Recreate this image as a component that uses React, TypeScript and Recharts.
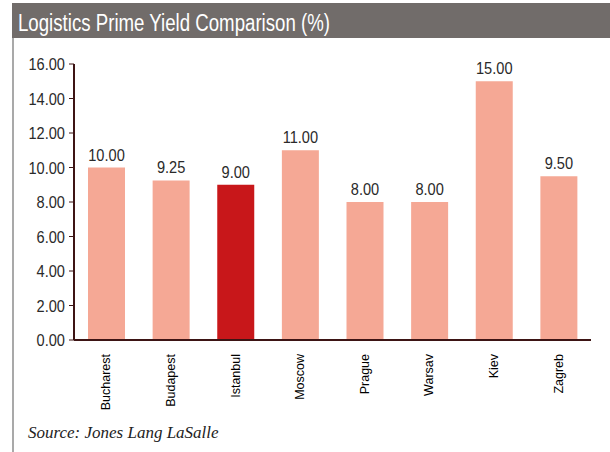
import React from 'react';
import { BarChart, Bar, XAxis, YAxis, Cell, LabelList } from 'recharts';

const cities = ['Bucharest', 'Budapest', 'Istanbul', 'Moscow', 'Prague', 'Warsav', 'Kiev', 'Zagreb'];
const yields = [10.0, 9.25, 9.0, 11.0, 8.0, 8.0, 15.0, 9.5];
const yTicks = [0, 2, 4, 6, 8, 10, 12, 14, 16];
const highlight = 'Istanbul';

const SANS = "'Liberation Sans', Arial, sans-serif";
const SQUEEZE = 0.86;

const data = cities.map((c, i) => ({ name: c, value: yields[i] }));

// condensed-looking text: regular sans squeezed horizontally
const Narrow = ({ x, y, anchor, children }: any) => (
  <text
    transform={`translate(${x}, ${y}) scale(${SQUEEZE}, 1)`}
    textAnchor={anchor}
    fontFamily={SANS}
    fontSize={17}
    fill="#2a2a2a"
  >
    {children}
  </text>
);

const ValueTick = (props: any) => {
  const { x, y, payload } = props;
  return (
    <Narrow x={x - 2} y={y + 6} anchor="end">
      {Number(payload.value).toFixed(2)}
    </Narrow>
  );
};

const CityTick = (props: any) => {
  const { x, y, payload } = props;
  return (
    <text
      x={x}
      y={y + 6}
      transform={`rotate(-90, ${x}, ${y + 6})`}
      textAnchor="end"
      dominantBaseline="central"
      fontFamily={SANS}
      fontSize={12.5}
      fill="#000"
    >
      {payload.value}
    </text>
  );
};

const BarValue = (props: any) => {
  const { x, y, width, value } = props;
  return (
    <Narrow x={x + width / 2} y={y - 7} anchor="middle">
      {Number(value).toFixed(2)}
    </Narrow>
  );
};

const App: React.FC = () => {
  return (
    <div style={{ position: 'absolute', left: 0, top: 0, width: 610, height: 452, background: '#fff' }}>
      <svg width={610} height={40} style={{ position: 'absolute', left: 0, top: 0 }}>
        <rect x={12} y={3} width={598} height={35} fill="#716c6a" />
        <text
          x={18}
          y={31}
          fill="#fff"
          fontFamily={SANS}
          fontSize={23}
          textLength={312}
          lengthAdjust="spacingAndGlyphs"
        >
          Logistics Prime Yield Comparison (%)
        </text>
      </svg>
      <div style={{ position: 'absolute', left: 12, top: 38, width: 2, height: 414, background: '#a9a9a9' }} />
      <BarChart
        width={610}
        height={452}
        data={data}
        margin={{ top: 64, right: 19, left: 14, bottom: 0 }}
        style={{ position: 'absolute', left: 0, top: 0 }}
      >
        <YAxis
          domain={[0, 16]}
          ticks={yTicks}
          interval={0}
          width={60}
          axisLine={{ stroke: '#3d1414', strokeWidth: 2 }}
          tickLine={{ stroke: '#3d1414' }}
          tickSize={5}
          tick={<ValueTick />}
        />
        <XAxis
          dataKey="name"
          interval={0}
          height={112}
          axisLine={{ stroke: '#3d1414', strokeWidth: 2 }}
          tickLine={false}
          tick={<CityTick />}
        />
        <Bar dataKey="value" barSize={37} isAnimationActive={false}>
          {data.map((d) => (
            <Cell key={d.name} fill={d.name === highlight ? '#c8171a' : '#f5a895'} />
          ))}
          <LabelList dataKey="value" content={<BarValue />} />
        </Bar>
      </BarChart>
      <div
        style={{
          position: 'absolute',
          left: 28,
          top: 423,
          fontFamily: "'Liberation Serif', 'Times New Roman', serif",
          fontStyle: 'italic',
          fontSize: 17,
          color: '#222'
        }}
      >
        Source: Jones Lang LaSalle
      </div>
    </div>
  );
};

export default App;
